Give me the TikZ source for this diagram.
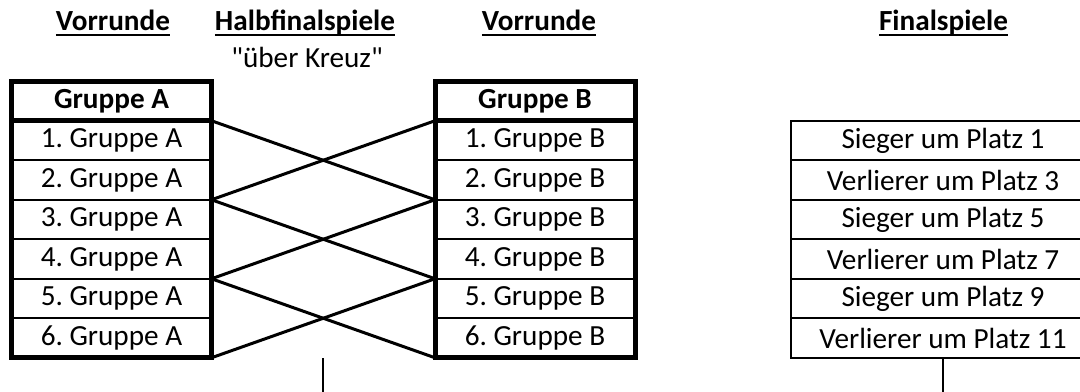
\documentclass[tikz,border=0pt]{standalone}
\usepackage{fontspec}
\setmainfont{Carlito}
\usetikzlibrary{positioning}
\tikzset{>=latex}
\frenchspacing
\newcommand{\headtext}[1]{\setbox0\hbox{\textbf{#1}}\rlap{\rule[-2.6pt]{\wd0}{0.9pt}}\box0}

\begin{document}
\begin{tikzpicture}[x=0.5pt, y=-0.5pt,
  every node/.style={font=\fontsize{14.6}{17}\selectfont, inner sep=0pt, outer sep=0pt},
  cell/.style={draw, line width=1pt, minimum width=100pt, minimum height=19.75pt},
  headcell/.style={cell, font=\fontsize{14.6}{17}\selectfont\bfseries},
  framebox/.style={draw, line width=2.5pt},
  crossline/.style={line width=1.5pt},
  stem/.style={line width=1.4pt}]
\useasboundingbox (0,0) rectangle (1080,391);
\clip (0,0) rectangle (1080,391);

% headings
\node[anchor=base] (vorA) at (113,31) {\headtext{Vorrunde}};
\node[anchor=base] (halb) at (305,31) {\headtext{Halbfinalspiele}};
\node[anchor=base] (kreuz) at (307,67) {\textquotedbl über Kreuz\textquotedbl};
\node[anchor=base] (vorB) at (539,31) {\headtext{Vorrunde}};
\node[anchor=base] (fin) at (943.5,31) {\headtext{Finalspiele}};

% Gruppe A
\node[headcell] (a0) at (111.5,101) {Gruppe A};
\foreach \i in {1,...,6}
  \node[cell] (a\i) at (111.5,{101+39.5*\i}) {\i. Gruppe A};
\draw[framebox] (a0.north west) rectangle (a6.south east);
\draw[framebox] (a0.south west) -- (a0.south east);

% Gruppe B
\node[headcell] (b0) at (535,101) {Gruppe B};
\foreach \i in {1,...,6}
  \node[cell] (b\i) at (535,{101+39.5*\i}) {\i. Gruppe B};
\draw[framebox] (b0.north west) rectangle (b6.south east);
\draw[framebox] (b0.south west) -- (b0.south east);

% Finalspiele
\foreach \i/\t in {1/Sieger um Platz 1, 2/Verlierer um Platz 3, 3/Sieger um Platz 5,
                   4/Verlierer um Platz 7, 5/Sieger um Platz 9, 6/Verlierer um Platz 11}
  \node[cell, minimum width=152pt] (f\i) at (943,{101+39.5*\i}) {\t};

% ueber Kreuz
\draw[crossline] (a0.south east) -- (b2.south west);
\draw[crossline] (a2.south east) -- (b0.south west);
\draw[crossline] (a2.south east) -- (b4.south west);
\draw[crossline] (a4.south east) -- (b2.south west);
\draw[crossline] (a4.south east) -- (b6.south west);
\draw[crossline] (a6.south east) -- (b4.south west);

% stems
\coordinate (halbtop) at (323,358);
\coordinate (halbend) at (323,395);
\coordinate (finend) at (f6.south |- halbend);
\draw[stem] (halbtop) -- (halbend);
\draw[stem] (f6.south) -- (finend);
\end{tikzpicture}
\end{document}
